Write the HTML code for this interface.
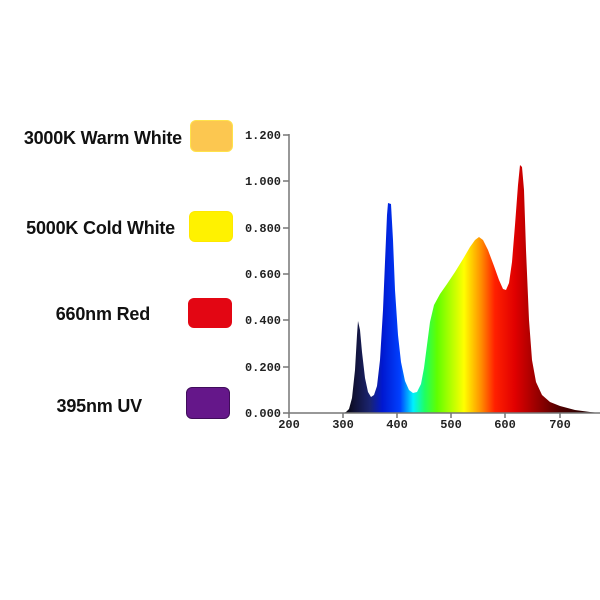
<!DOCTYPE html>
<html><head><style>
body{margin:0;width:600px;height:600px;background:#fff;overflow:hidden;font-family:"Liberation Sans",sans-serif}
.t{position:absolute;font-weight:bold;font-size:18px;color:#111;letter-spacing:-0.2px;white-space:nowrap;text-align:right}
.b{position:absolute;border-radius:6px}
</style></head><body>
<div class="t" style="right:418px;top:128px">3000K Warm White</div>
<div class="t" style="right:425px;top:218px">5000K Cold White</div>
<div class="t" style="right:450px;top:304px">660nm Red</div>
<div class="t" style="right:458px;top:396px">395nm UV</div>
<div class="b" style="left:190px;top:120px;width:41px;height:30px;background:#fcc750;border:1.5px solid #ffe24a"></div>
<div class="b" style="left:189px;top:211px;width:42px;height:29px;background:#fff200;border:1px solid #ffe800"></div>
<div class="b" style="left:188px;top:298px;width:44px;height:30px;background:#e30613"></div>
<div class="b" style="left:186px;top:387px;width:42px;height:30px;background:#65178a;border:1.5px solid #3f0d5a"></div>
<svg width="600" height="600" style="position:absolute;left:0;top:0">
<defs><linearGradient id="g" gradientUnits="userSpaceOnUse" x1="289" y1="0" x2="600" y2="0">
<stop offset="0.174" stop-color="#000"/>
<stop offset="0.206" stop-color="#101030"/>
<stop offset="0.26" stop-color="#1a2470"/>
<stop offset="0.30" stop-color="#0018d0"/>
<stop offset="0.357" stop-color="#0040ff"/>
<stop offset="0.399" stop-color="#00f0ff"/>
<stop offset="0.437" stop-color="#20ff60"/>
<stop offset="0.476" stop-color="#60ff00"/>
<stop offset="0.563" stop-color="#ffff00"/>
<stop offset="0.617" stop-color="#ff9000"/>
<stop offset="0.662" stop-color="#ff2000"/>
<stop offset="0.727" stop-color="#e00000"/>
<stop offset="0.79" stop-color="#a00000"/>
<stop offset="0.87" stop-color="#500000"/>
<stop offset="1" stop-color="#100000"/>
</linearGradient></defs>
<path fill="url(#g)" d="M343,413 L346,412 L349,409 L352,398 L355,370 L357,335 L358,321 L360,330 L362,352 L365,378 L368,392 L371,397 L374,395 L377,386 L380,360 L383,310 L385,262 L387,215 L388,203 L391,204 L393,240 L395,290 L398,335 L401,362 L405,381 L409,390 L413,393 L417,392 L421,384 L424,368 L427,345 L430,322 L434,305 L440,294 L447,284 L455,272 L463,259 L470,247 L475,240 L479,237 L483,240 L488,250 L494,266 L499,280 L503,289 L506,290 L509,283 L512,262 L515,225 L518,185 L520,165 L522,167 L524,190 L526,250 L529,320 L532,360 L536,382 L542,395 L550,402 L560,406 L575,410 L590,412 L600,413 Z"/>
<g stroke="#777" stroke-width="1.5" fill="none"><path d="M289,134 V413 H600"/>
<path d="M283,135h6M283,181h6M283,228h6M283,274h6M283,320h6M283,367h6M283,413h6M289,413v5M343,413v5M397,413v5M451,413v5M505,413v5M560,413v5"/></g>
<g font-family="Liberation Mono,monospace" font-size="12" font-weight="bold" fill="#222" text-anchor="end">
<text x="281" y="139">1.200</text><text x="281" y="185">1.000</text><text x="281" y="232">0.800</text><text x="281" y="278">0.600</text><text x="281" y="324">0.400</text><text x="281" y="371">0.200</text><text x="281" y="417">0.000</text></g>
<g font-family="Liberation Mono,monospace" font-size="12" font-weight="bold" fill="#222" text-anchor="middle">
<text x="289" y="428">200</text><text x="343" y="428">300</text><text x="397" y="428">400</text><text x="451" y="428">500</text><text x="505" y="428">600</text><text x="560" y="428">700</text></g>
</svg>
</body></html>
